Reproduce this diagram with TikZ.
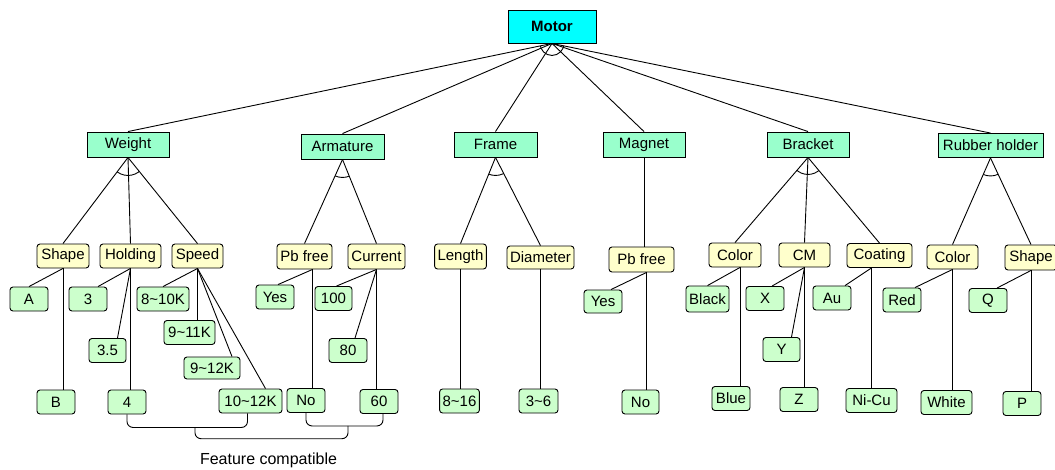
\documentclass[tikz,border=0pt]{standalone}
\usepackage{fontspec}
\setmainfont{Liberation Sans}
\usepackage{tikz}
\usetikzlibrary{calc}
\definecolor{mroot}{HTML}{00FFFF}
\definecolor{mpart}{HTML}{99FFCC}
\definecolor{mattr}{HTML}{FFFFCC}
\definecolor{mval}{HTML}{CCFFCC}
\newcommand{\til}{\textasciitilde}
\newcommand{\grouparc}[4]{%
  \begin{scope}
    \clip (#1) -- (#2) -- (#3) -- cycle;
    \draw[link] (#1) circle[radius=#4];
  \end{scope}}

\begin{document}
\begin{tikzpicture}[x=1pt, y=-1pt,
    root/.style={draw=black, line width=0.9pt, fill=mroot, minimum width=88pt, minimum height=33pt,
                 inner sep=3pt, font=\fontsize{15pt}{18pt}\selectfont\bfseries},
    part/.style={draw=black, line width=0.9pt, fill=mpart, minimum width=82pt, minimum height=25pt,
                 inner sep=3pt, font=\fontsize{15pt}{18pt}\selectfont},
    attr/.style={draw=black, line width=0.9pt, fill=mattr, rounded corners=3pt, minimum width=51pt,
                 minimum height=24pt, inner sep=3pt, font=\fontsize{15pt}{18pt}\selectfont},
    val/.style={draw=black, line width=0.9pt, fill=mval, rounded corners=3pt, minimum width=38pt,
                minimum height=24pt, inner sep=3pt, font=\fontsize{15pt}{18pt}\selectfont},
    link/.style={line width=0.9pt, black}]
    \useasboundingbox (0,0) rectangle (1055,469);
    \node[root] (motor) at (552,26.5) {Motor};
    \node[part] (wt) at (128,144.5) {Weight};
    \node[part, minimum width=83pt] (arm) at (342.5,146.5) {Armature};
    \node[part, minimum width=83pt] (frm) at (495.5,144.5) {Frame};
    \node[part] (mag) at (644,144.5) {Magnet};
    \node[part] (brk) at (808,144.5) {Bracket};
    \node[part, minimum width=105pt, minimum height=24pt] (rub) at (990.5,145.5) {Rubber holder};
    \node[attr, minimum width=52pt] (wshape) at (63,256) {Shape};
    \node[attr, minimum width=61pt] (whold) at (130.5,256) {Holding};
    \node[attr] (wspeed) at (197.5,256) {Speed};
    \node[attr, minimum width=55pt, minimum height=25pt] (apb) at (304.5,256.5) {Pb free};
    \node[attr, minimum width=57pt, minimum height=25pt] (acur) at (376.5,256.5) {Current};
    \node[attr, minimum height=25pt] (flen) at (460.5,256.5) {Length};
    \node[attr, minimum width=67pt, minimum height=23pt] (fdia) at (540.5,257.5) {Diameter};
    \node[attr, minimum width=65pt, minimum height=25pt] (mpb) at (641.5,259.5) {Pb free};
    \node[attr, minimum width=52pt] (bcol) at (735,255) {Color};
    \node[attr] (bcm) at (804.5,255) {CM};
    \node[attr, minimum width=65pt] (bcoat) at (879.5,255.5) {Coating};
    \node[attr] (rcol) at (952.5,257) {Color};
    \node[attr, minimum width=52pt, minimum height=25pt] (rshape) at (1031,257.5) {Shape};
    \node[val] (wa) at (29,299) {A};
    \node[val] (wb) at (56,402) {B};
    \node[val] (h3) at (88,299) {3};
    \node[val, minimum width=37pt] (h35) at (107.5,350.5) {3.5};
    \node[val] (h4) at (127,402) {4};
    \node[val, minimum width=52pt] (s810) at (163,299) {8\til10K};
    \node[val, minimum width=51pt] (s911) at (189.5,332.5) {9\til11K};
    \node[val, minimum width=56pt, minimum height=22pt] (s912) at (212,368) {9\til12K};
    \node[val, minimum width=63pt] (s1012) at (250.5,401) {10\til12K};
    \node[val] (ayes) at (275,297) {Yes};
    \node[val] (ano) at (306,400.5) {No};
    \node[val, minimum width=37pt] (c100) at (333.5,298.5) {100};
    \node[val] (c80) at (348,350.5) {80};
    \node[val] (c60) at (379,401.5) {60};
    \node[val, minimum width=37pt] (l816) at (459.5,401) {8\til16};
    \node[val, minimum width=39pt] (d36) at (538.5,401) {3\til6};
    \node[val, minimum height=23pt] (myes) at (603,301.5) {Yes};
    \node[val, minimum width=37pt] (mno) at (640.5,402) {No};
    \node[val, minimum width=43pt, minimum height=26pt] (bblack) at (707.5,299) {Black};
    \node[val] (bblue) at (731,398.5) {Blue};
    \node[val] (bx) at (765,298.5) {X};
    \node[val, minimum width=37pt] (by) at (781.5,349.5) {Y};
    \node[val] (bz) at (799,399.5) {Z};
    \node[val] (bau) at (832,298) {Au};
    \node[val, minimum width=51pt] (bnicu) at (871.5,400.5) {Ni-Cu};
    \node[val] (rred) at (902,300) {Red};
    \node[val, minimum width=51pt] (rwhite) at (946.5,402.5) {White};
    \node[val] (rq) at (988,300.5) {Q};
    \node[val] (rp) at (1022,403.5) {P};
    \foreach \p in {wt,arm,frm,mag,brk,rub}
      \draw[link] (motor.south) -- (\p.north);
    \foreach \c in {wshape,whold,wspeed}
      \draw[link] (wt.south) -- (\c.north);
    \foreach \c in {apb,acur}
      \draw[link] (arm.south) -- (\c.north);
    \foreach \c in {flen,fdia}
      \draw[link] (frm.south) -- (\c.north);
    \draw[link] (mag.south) -- (mag.south |- mpb.north);
    \foreach \c in {bcol,bcm,bcoat}
      \draw[link] (brk.south) -- (\c.north);
    \foreach \c in {rcol,rshape}
      \draw[link] (rub.south) -- (\c.north);
    \grouparc{motor.south}{wt.north}{rub.north}{12pt}
    \grouparc{wt.south}{wshape.north}{wspeed.north}{18pt}
    \grouparc{arm.south}{apb.north}{acur.north}{18pt}
    \grouparc{frm.south}{flen.north}{fdia.north}{18pt}
    \grouparc{brk.south}{bcol.north}{bcoat.north}{17pt}
    \grouparc{rub.south}{rcol.north}{rshape.north}{18pt}
    \coordinate (apb-b) at ([xshift=8pt]apb.south);
    \coordinate (mpb-b) at ([xshift=5pt]mpb.south);
    \coordinate (bcol-b) at ([xshift=5pt]bcol.south);
    \coordinate (bcoat-b) at ([xshift=-8pt]bcoat.south);
    \draw[link] (wshape.south) -- (wa.north);
    \draw[link] (wshape.south) -- (wshape.south |- wb.north);
    \draw[link] (whold.south) -- ([xshift=10pt]h3.north);
    \draw[link] (whold.south) -- ([xshift=10pt]h35.north);
    \draw[link] (whold.south) -- (whold.south |- h4.north);
    \draw[link] (wspeed.south) -- (s810.north);
    \draw[link] (wspeed.south) -- (wspeed.south |- s911.north);
    \draw[link] (wspeed.south) -- ([xshift=20pt]s912.north);
    \draw[link] (wspeed.south) -- ([xshift=15pt]s1012.north);
    \draw[link] (apb-b) -- ([xshift=3pt]ayes.north);
    \draw[link] (apb-b) -- (apb-b |- ano.north);
    \draw[link] (acur.south) -- ([xshift=3pt]c100.north);
    \draw[link] (acur.south) -- ([xshift=7pt]c80.north);
    \draw[link] (acur.south) -- (acur.south |- c60.north);
    \draw[link] (flen.south) -- (flen.south |- l816.north);
    \draw[link] (fdia.south) -- (fdia.south |- d36.north);
    \draw[link] (mpb-b) -- ([xshift=8pt]myes.north);
    \draw[link] (mpb-b) -- (mpb-b |- mno.north);
    \draw[link] (bcol-b) -- (bblack.north);
    \draw[link] (bcol-b) -- (bcol-b |- bblue.north);
    \draw[link] (bcm.south) -- ([xshift=7pt]bx.north);
    \draw[link] (bcm.south) -- ([xshift=10pt]by.north);
    \draw[link] (bcm.south) -- (bcm.south |- bz.north);
    \draw[link] (bcoat-b) -- ([xshift=13pt]bau.north);
    \draw[link] (bcoat-b) -- (bcoat-b |- bnicu.north);
    \draw[link] (rcol.south) -- ([xshift=13pt]rred.north);
    \draw[link] (rcol.south) -- (rcol.south |- rwhite.north);
    \draw[link] (rshape.south) -- ([xshift=9pt]rq.north);
    \draw[link] (rshape.south) -- (rshape.south |- rp.north);
    \draw[link, rounded corners=6pt] (h4.south) |- ($(h4.south)+(60,13)$) -| ([xshift=-3pt]s1012.south);
    \draw[link, rounded corners=6pt] (ano.south) |- ($(ano.south)+(40,13)$) -| ([xshift=4pt]c60.south);
    \coordinate (fcl) at ($(h4.south)+(68,13)$);
    \coordinate (fcr) at ($(ano.south)+(42,13)$);
    \draw[link, rounded corners=6pt] (fcl) |- ($(fcl)!0.5!(fcr)+(0,12)$) -| (fcr);
    \node[font=\fontsize{16pt}{19pt}\selectfont] (fclabel) at (268.5,460) {Feature compatible};
\end{tikzpicture}
\end{document}
